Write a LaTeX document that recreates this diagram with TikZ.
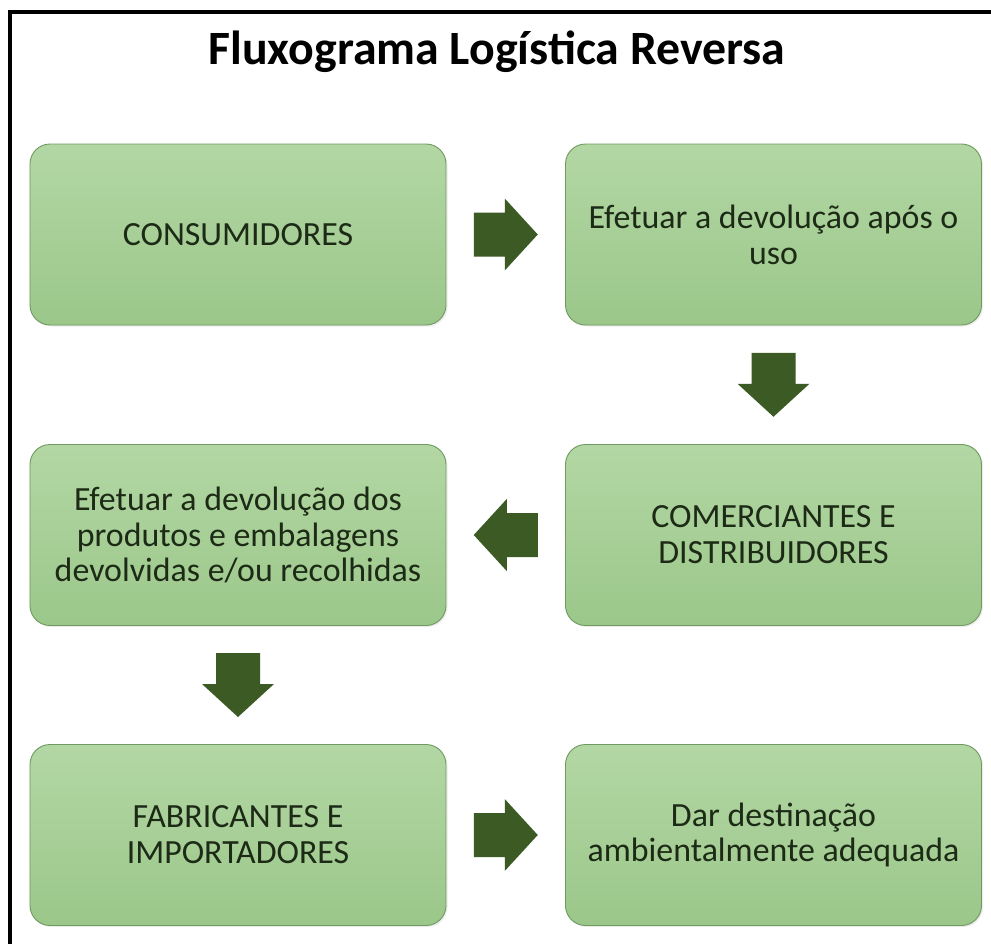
\documentclass[tikz,border=0pt]{standalone}
\usepackage{fontspec}
\setmainfont{Carlito}
\usetikzlibrary{calc,shadows}
\definecolor{boxtop}{HTML}{B3D7A4}
\definecolor{boxbot}{HTML}{9BC78A}
\definecolor{boxline}{HTML}{6F9A5F}
\definecolor{arrowgreen}{HTML}{3C5A24}
\definecolor{txtgreen}{HTML}{1C2A16}
\begin{document}
\begin{tikzpicture}[x=1bp,y=-1bp,
  stagebox/.style={draw=boxline, line width=0.9bp, rounded corners=20bp,
    top color=boxtop, bottom color=boxbot,
    minimum width=416bp, minimum height=181bp, inner sep=0pt,
    align=center, text=txtgreen, font=\fontsize{34}{36}\selectfont,
    drop shadow={shadow xshift=1.5bp, shadow yshift=-1.5bp, opacity=0.15}},
  blockarrow/.pic={\fill[arrowgreen] (-32,-22) -- (-1,-22) -- (-1,-36) -- (32,0) -- (-1,36) -- (-1,22) -- (-32,22) -- cycle;}
]
\useasboundingbox (0,0) rectangle (991,944);
\fill[white] (0,0) rectangle (991,944);
\draw[line width=4bp, line cap=rect] (10,946) -- (10,12) -- (993,12);
\node[font=\fontsize{48}{54}\selectfont\bfseries, text=black, anchor=base] (title) at (497,64) {Fluxograma Logística Reversa};

\node[stagebox] (b1) at (238,234.5) {CONSUMIDORES};
\node[stagebox] (b2) at (773.5,234.5) {Efetuar a devolução após o\\uso};
\node[stagebox] (b3) at (773.5,535) {COMERCIANTES E\\DISTRIBUIDORES};
\node[stagebox] (b4) at (238,535) {Efetuar a devolução dos\\produtos e embalagens\\devolvidas e/ou recolhidas};
\node[stagebox] (b5) at (238,835) {FABRICANTES E\\IMPORTADORES};
\node[stagebox] (b6) at (773.5,835) {Dar destinação\\ambientalmente adequada};

\pic at ($(b1.east)!0.5!(b2.west)$) {blockarrow};
\pic[rotate=-90] at ($(b2.south)!0.5!(b3.north)$) {blockarrow};
\pic[rotate=180] at ($(b3.west)!0.5!(b4.east)$) {blockarrow};
\pic[rotate=-90] at ($(b4.south)!0.5!(b5.north)$) {blockarrow};
\pic at ($(b5.east)!0.5!(b6.west)$) {blockarrow};
\end{tikzpicture}
\end{document}
